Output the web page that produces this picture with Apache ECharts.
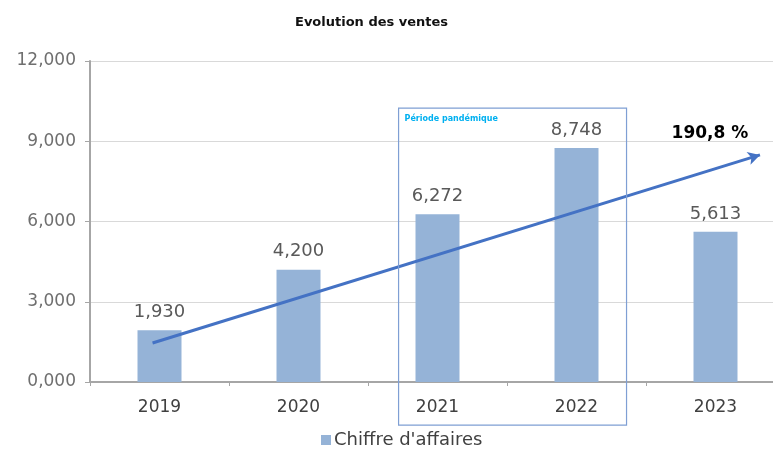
<!DOCTYPE html>
<html>
<head>
<meta charset="utf-8">
<script src="https://cdn.jsdelivr.net/npm/echarts@6/dist/echarts.min.js"></script>
<style>
  html, body { margin: 0; padding: 0; background: #fff; }
  #chart { width: 773px; height: 454px; }
</style>
</head>
<body>
<div id="chart"></div>
<script>
var years = ['2019', '2020', '2021', '2022', '2023'];
var sales = [1930, 4200, 6272, 8748, 5613];
var yTicks = [0, 3000, 6000, 9000, 12000];

// trend arrow, on a hidden value axis running from -0.5 to 4.5
var trendStart = [-0.05, 1460];
var trendEnd = [4.32, 8490];
var trendLabel = '190,8 %';
var trendLabelAt = [3.96, 9300];

// box around the pandemic years
var boxFrom = [1.72, 10240];
var boxTo = [3.36, -1610];
var boxLabel = 'Période pandémique';

var myChart = echarts.init(document.getElementById('chart'));

var option = {
    animation: false,
    title: {
        text: 'Evolution des ventes',
        left: 290,
        top: 11,
        textStyle: { fontFamily: 'DejaVu Sans', fontSize: 13, fontWeight: 'bold', color: '#111' }
    },
    legend: {
        bottom: 0,
        left: 316,
        itemWidth: 10,
        itemHeight: 10,
        itemGap: 4,
        icon: 'rect',
        data: ['Chiffre d\'affaires'],
        textStyle: { fontFamily: 'DejaVu Sans', fontSize: 18, color: '#404040', padding: [0, 0, 0, -2] }
    },
    grid: { left: 90, width: 695, top: 61, bottom: 72, containLabel: false, outerBoundsMode: 'none' },
    xAxis: [{
        type: 'category',
        data: years,
        axisLine: { lineStyle: { color: '#a6a6a6', width: 2 } },
        axisTick: { show: true, length: 4, lineStyle: { color: '#a6a6a6' } },
        axisLabel: { fontFamily: 'DejaVu Sans', fontSize: 17, color: '#404040', margin: 17 }
    }, {
        type: 'value',
        min: -0.5,
        max: 4.5,
        show: false
    }],
    yAxis: {
        type: 'value',
        min: 0,
        max: 12000,
        interval: 3000,
        axisLine: { show: true, onZero: false, lineStyle: { color: '#a6a6a6', width: 2 } },
        axisTick: { show: true, inside: false, length: 5, lineStyle: { color: '#a6a6a6' } },
        splitLine: { lineStyle: { color: '#d9d9d9', width: 1 } },
        axisLabel: {
            fontFamily: 'DejaVu Sans',
            fontSize: 17,
            color: '#6f6f6f',
            margin: 14,
            formatter: function (v) {
                return v === 0 ? '0,000' : v.toLocaleString('en-US');
            }
        }
    },
    series: [{
        name: 'Chiffre d\'affaires',
        type: 'bar',
        data: sales,
        barWidth: 44,
        itemStyle: { color: '#95b3d7' },
        label: {
            show: true,
            position: 'top',
            distance: 9,
            fontFamily: 'DejaVu Sans',
            fontSize: 18,
            color: '#595959',
            formatter: function (p) { return p.value.toLocaleString('en-US'); }
        }
    }, {
        name: 'trend',
        type: 'line',
        xAxisIndex: 1,
        data: [],
        silent: true,
        markLine: {
            silent: true,
            symbol: ['none', 'arrow'],
            symbolSize: [10, 12],
            label: { show: false },
            lineStyle: { color: '#4472c4', width: 3, type: 'solid' },
            data: [[{ coord: trendStart }, { coord: trendEnd }]]
        }
    }]
};

myChart.setOption(option);

function drawNotes() {
    var p1 = myChart.convertToPixel({ xAxisIndex: 1, yAxisIndex: 0 }, boxFrom);
    var p2 = myChart.convertToPixel({ xAxisIndex: 1, yAxisIndex: 0 }, boxTo);
    var pt = myChart.convertToPixel({ xAxisIndex: 1, yAxisIndex: 0 }, trendLabelAt);
    myChart.setOption({
        graphic: [{
            type: 'rect',
            shape: { x: p1[0], y: p1[1], width: p2[0] - p1[0], height: p2[1] - p1[1] },
            style: { fill: 'none', stroke: '#7f9fd4', lineWidth: 1.2 },
            z: 10
        }, {
            type: 'text',
            x: p1[0] + 6,
            y: p1[1] + 7,
            style: { text: boxLabel, fill: '#00b0f0', font: 'bold 8px "DejaVu Sans"' },
            z: 10
        }, {
            type: 'text',
            x: pt[0],
            y: pt[1],
            style: {
                text: trendLabel,
                fill: '#000',
                font: 'bold 17px "DejaVu Sans"',
                align: 'center',
                verticalAlign: 'middle'
            },
            z: 10
        }]
    });
}
drawNotes();
</script>
</body>
</html>
